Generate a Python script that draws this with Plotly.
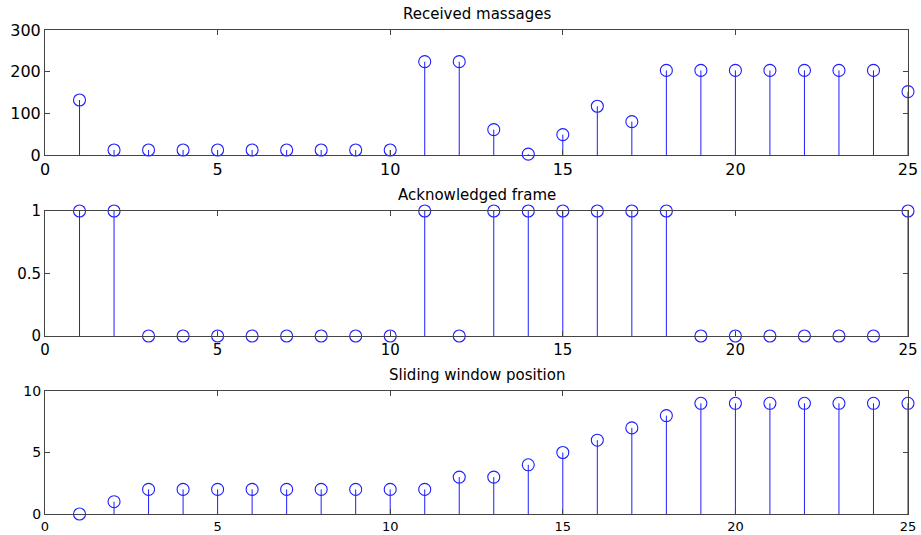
import plotly.graph_objects as go

x = list(range(1, 26))
received = [132, 12, 12, 12, 12, 12, 12, 12, 12, 12, 224, 224, 61, 2, 49, 117, 80,
            203, 203, 203, 203, 203, 203, 203, 152]
ack = [1, 1, 0, 0, 0, 0, 0, 0, 0, 0, 1, 0, 1, 1, 1, 1, 1, 1, 0, 0, 0, 0, 0, 0, 1]
window = [0, 1, 2, 2, 2, 2, 2, 2, 2, 2, 2, 3, 3, 4, 5, 6, 7, 8, 9, 9, 9, 9, 9, 9, 9]

titles = ["Received massages", "Acknowledged frame", "Sliding window position"]
series = [received, ack, window]
yranges = [[0, 300], [0, 1], [0, 10]]
ydticks = [100, 0.5, 5]
tickfont_sizes = [16, 15, 13]

W, H = 921, 535
ml, mr, mt, mb = 45, 13, 30, 21
ph = H - mt - mb
tops_px = [30, 211, 391]
bots_px = [155, 336, 514]

blue = "rgb(30,30,255)"
fig = go.Figure()
axis_col = "#444444"
FONT = "DejaVu Sans, Arial"

for i, (ys, title) in enumerate(zip(series, titles)):
    sx, sy = [], []
    for xi, yi in zip(x, ys):
        sx += [xi, xi, None]
        sy += [0, yi, None]
    suffix = "" if i == 0 else str(i + 1)
    fig.add_trace(go.Scatter(x=sx, y=sy, mode="lines",
                             line=dict(color=blue, width=1),
                             xaxis="x" + suffix, yaxis="y" + suffix,
                             hoverinfo="skip", showlegend=False))
    fig.add_trace(go.Scatter(x=x, y=ys, mode="markers",
                             marker=dict(symbol="circle-open", size=12,
                                         color=blue, line=dict(width=1.1, color=blue)),
                             cliponaxis=False,
                             xaxis="x" + suffix, yaxis="y" + suffix,
                             showlegend=False))
    top = (H - mb - tops_px[i]) / ph
    bot = (H - mb - bots_px[i]) / ph
    xa = dict(domain=[0, 1], range=[0, 25], tickvals=[0, 5, 10, 15, 20, 25],
              ticks="inside", ticklen=5, tickcolor=axis_col,
              showline=True, linecolor=axis_col, linewidth=1, mirror="ticks",
              showgrid=False, zeroline=False, automargin=False,
              tickfont=dict(family=FONT, size=tickfont_sizes[i], color="#000"),
              anchor="y" + suffix)
    ya = dict(domain=[bot, top], range=yranges[i], dtick=ydticks[i],
              ticks="inside", ticklen=5, tickcolor=axis_col,
              showline=True, linecolor=axis_col, linewidth=1, mirror="ticks",
              showgrid=False, zeroline=False, automargin=False,
              tickfont=dict(family=FONT, size=tickfont_sizes[i] if i < 2 else 14, color="#000"),
              anchor="x" + suffix)
    fig.layout["xaxis" + suffix] = xa
    fig.layout["yaxis" + suffix] = ya
    fig.add_annotation(text=title, x=0.5, xref="paper",
                       y=top, yref="paper", yanchor="bottom", yshift=5,
                       showarrow=False,
                       font=dict(family=FONT, size=15, color="#000"))

fig.update_layout(width=W, height=H, margin=dict(l=ml, r=mr, t=mt, b=mb),
                  plot_bgcolor="white", paper_bgcolor="white")

fig.write_html("out.html", config={"displayModeBar": False},
               post_script="document.body.style.margin='0';")
